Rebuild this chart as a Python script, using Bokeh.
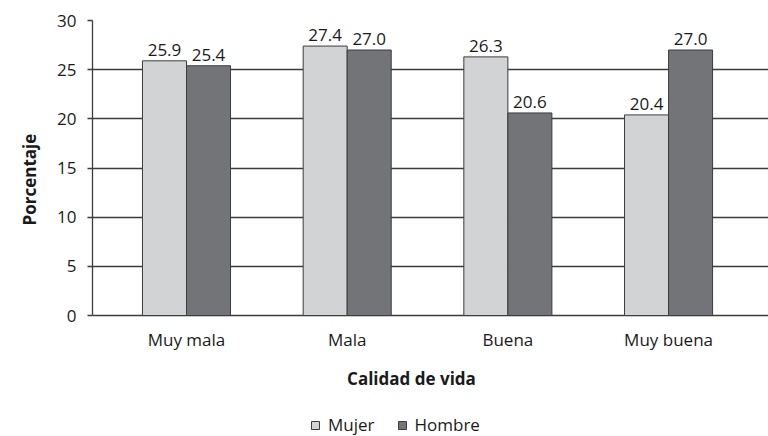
from bokeh.plotting import figure
from bokeh.models import (ColumnDataSource, FixedTicker, Legend, LegendItem,
                          Range1d, Label, Title)
from bokeh.transform import dodge
from bokeh.core.properties import value
from bokeh.embed import file_html
from bokeh.resources import INLINE

categories = ["Muy mala", "Mala", "Buena", "Muy buena"]
mujer = [25.9, 27.4, 26.3, 20.4]
hombre = [25.4, 27.0, 20.6, 27.0]
y_ticks = [0, 5, 10, 15, 20, 25, 30]
x_title = "Calidad de vida"
y_title = "Porcentaje"

FONT = "Open Sans"
TXT = "#1a1a1a"
LINE = "#3c3c3c"
C_MUJER = "#d2d3d5"
C_HOMBRE = "#737477"

xs = list(range(len(categories)))
src = ColumnDataSource(dict(
    x=xs, cat=categories, zero=[0] * len(categories),
    mujer=mujer, hombre=hombre,
    mujer_lbl=[f"{v:.1f}" for v in mujer],
    hombre_lbl=[f"{v:.1f}" for v in hombre],
))

# frame spans down to the bottom of the page; the value axis is bounded to 0..30
p = figure(width=768, height=436, output_backend="svg", toolbar_location=None,
           x_range=Range1d(-0.585, 3.622), y_range=Range1d(-12.3, 30),
           x_axis_location=None,
           min_border_left=92, min_border_right=0, min_border_top=20,
           min_border_bottom=0)
p.outline_line_color = None
p.background_fill_color = "white"
p.border_fill_color = "white"

bw = 0.274
off = bw / 2
r1 = p.vbar(x=dodge("x", -off), top="mujer", width=bw, source=src,
            fill_color=C_MUJER, line_color=LINE, line_width=1)
r2 = p.vbar(x=dodge("x", off), top="hombre", width=bw, source=src,
            fill_color=C_HOMBRE, line_color=LINE, line_width=1)

for col, lbl, dx in (("mujer", "mujer_lbl", -off), ("hombre", "hombre_lbl", off)):
    p.text(x=dodge("x", dx), y=col, text=lbl, source=src,
           text_align="center", text_baseline="alphabetic", y_offset=-11,
           text_font=value(FONT), text_font_size="17px", text_color=TXT)

# category labels under the baseline
p.text(x="x", y="zero", text="cat", source=src, text_align="center",
       text_baseline="alphabetic", y_offset=24, text_font=value(FONT),
       text_font_size="17px", text_color=TXT)

# x title
p.add_layout(Label(x=1.4, y=0, y_offset=-63, text=x_title, text_align="center",
                   text_baseline="alphabetic", text_font=FONT,
                   text_font_style="bold", text_font_size="17px",
                   text_color=TXT))

# grid (the 0 line doubles as the category axis line)
p.xgrid.grid_line_color = None
p.ygrid.ticker = FixedTicker(ticks=y_ticks)
p.ygrid.grid_line_color = LINE
p.ygrid.grid_line_width = 1.3

# y axis
p.yaxis.ticker = FixedTicker(ticks=y_ticks)
p.yaxis.bounds = (0, 30)
p.yaxis.major_label_text_font = FONT
p.yaxis.major_label_text_font_size = "17px"
p.yaxis.major_label_text_color = TXT
p.yaxis.major_label_standoff = 11
p.yaxis.major_tick_out = 5
p.yaxis.major_tick_in = 0
p.yaxis.minor_tick_out = 0
p.yaxis.minor_tick_in = 0
p.yaxis.axis_line_color = LINE
p.yaxis.axis_line_width = 1.3
p.yaxis.major_tick_line_color = LINE
p.yaxis.major_tick_line_width = 1.3

# y title, placed next to the 0..30 span rather than centred on the whole frame
p.add_layout(Title(text=y_title, align="left", offset=211, standoff=27,
                   vertical_align="bottom",
                   text_font=FONT, text_font_style="bold",
                   text_font_size="17px", text_color=TXT), "left")

legend = Legend(items=[LegendItem(label="Mujer", renderers=[r1]),
                       LegendItem(label="Hombre", renderers=[r2])],
                orientation="horizontal", location=(218, 0),
                glyph_width=10, glyph_height=10, label_standoff=8, spacing=22,
                padding=0, margin=0, border_line_color=None,
                background_fill_alpha=0,
                label_text_font=FONT, label_text_font_size="17px",
                label_text_color=TXT)
p.add_layout(legend, "center")

open("out.html", "w").write(file_html(p, INLINE))
